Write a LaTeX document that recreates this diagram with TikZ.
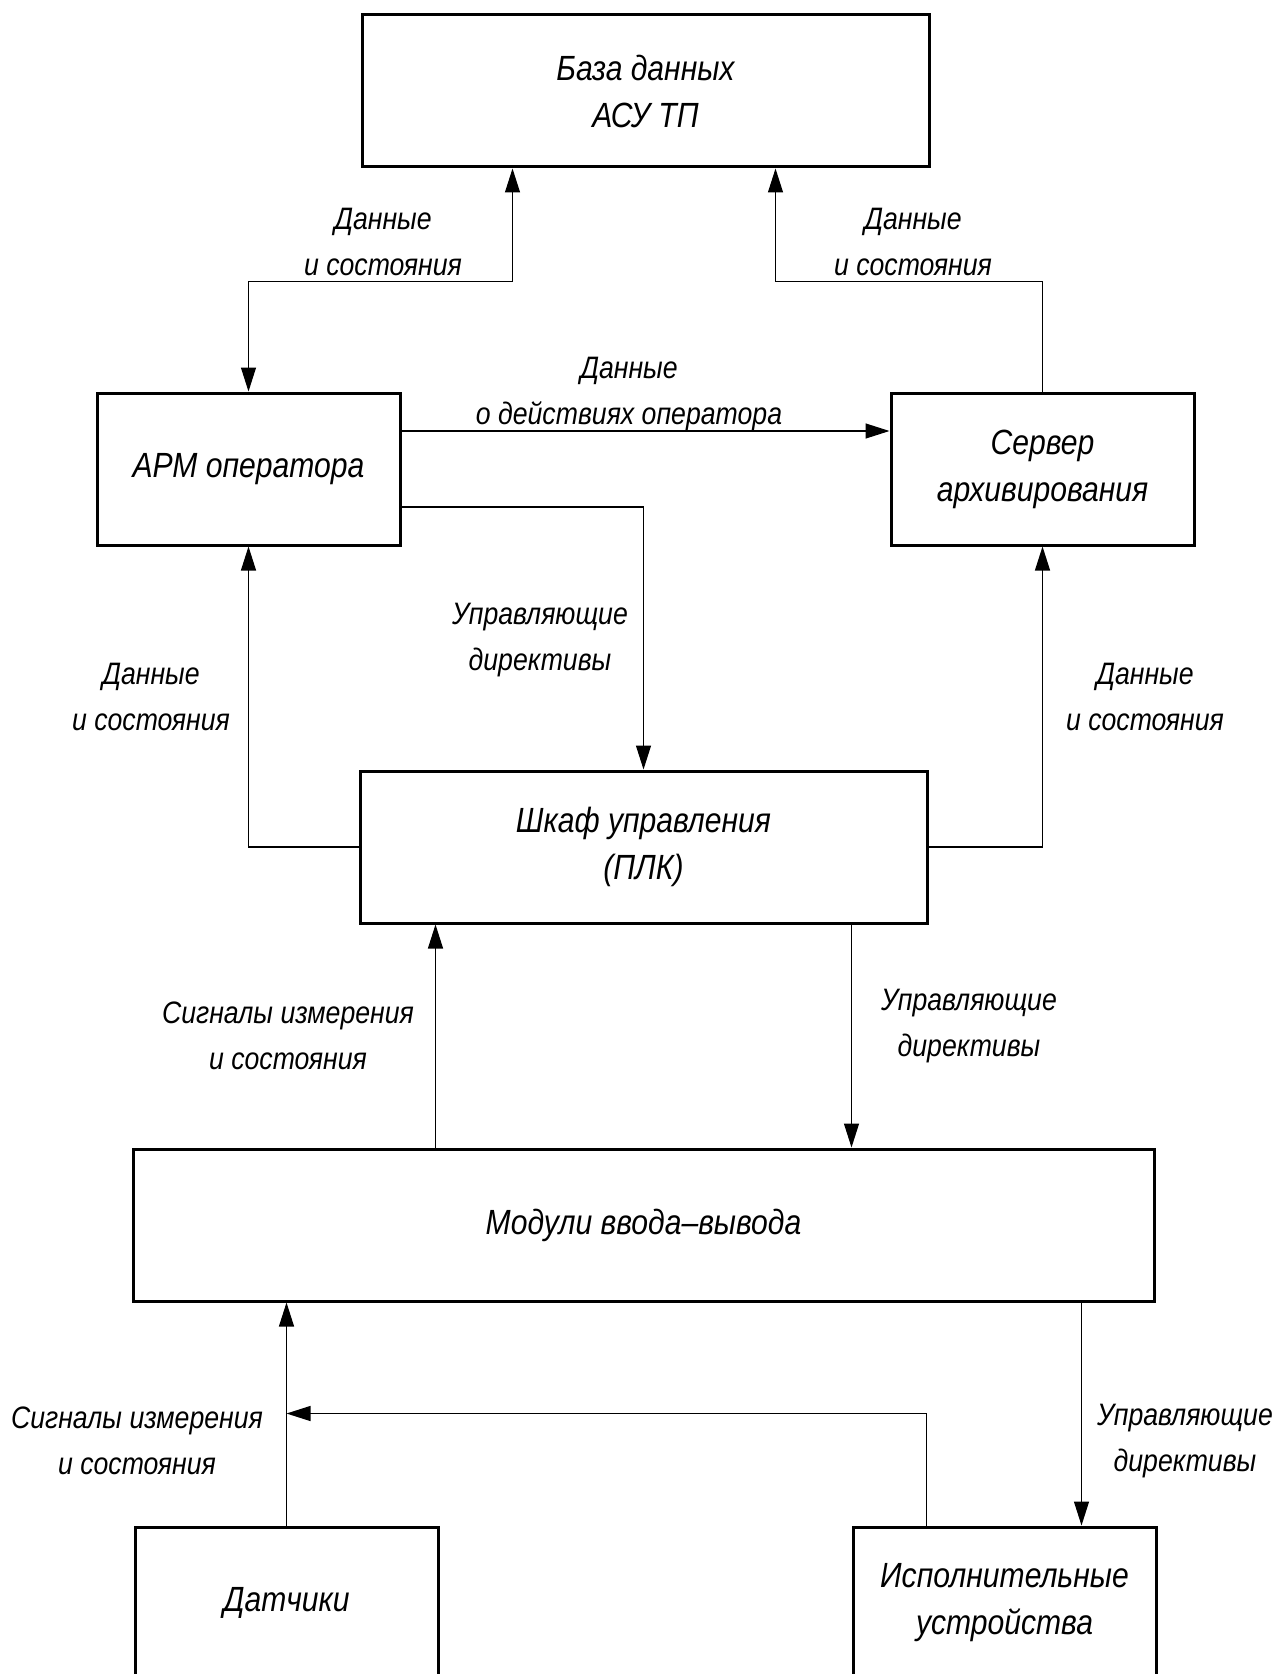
\documentclass[tikz,border=0pt]{standalone}
\usepackage{fontspec}
\newfontfamily\gostfont{Liberation Sans}[FakeStretch=0.86]
\usetikzlibrary{arrows.meta, calc}

\begin{document}
\begin{tikzpicture}[x=0.5pt, y=-0.5pt, >={Triangle[length=12pt, width=7.5pt]}, line width=0.6pt,
    blk/.style={draw, line width=1.5pt, minimum height=76pt, inner sep=0pt, align=center,
      font=\gostfont\itshape\fontsize{17.5pt}{23.5pt}\selectfont},
    lbl/.style={inner sep=0pt, align=center, font=\gostfont\itshape\fontsize{15.5pt}{23pt}\selectfont}]
  \useasboundingbox (0,0) rectangle (1274,1674);
  % blocks
  \node[blk, minimum width=283.5pt] (db) at (645.5,91) {База данных\\АСУ ТП};
  \node[blk, minimum width=151.5pt] (arm) at (248.5,469) {АРМ оператора};
  \node[blk, minimum width=151.5pt] (srv) at (1042.5,469) {Сервер\\архивирования};
  \node[blk, minimum width=283.5pt] (plc) at (643.5,847) {Шкаф управления\\(ПЛК)};
  \node[blk, minimum width=510.5pt] (io) at (643.5,1225) {Модули ввода–вывода};
  \node[blk, minimum width=151.5pt] (sens) at (286.5,1603) {Датчики};
  \node[blk, minimum width=151.5pt] (act) at (1004.5,1603) {Исполнительные\\устройства};
  % connectors
  \draw[<->] (arm.north) |- ($(db.south west)+(152,113)$) -- ($(db.south west)+(152,0)$);
  \draw[->] (srv.north) |- ($(db.south west)+(415,113)$) -- ($(db.south west)+(415,0)$);
  \draw[->] ($(arm.east)+(0,-38)$) coordinate (op) -- (op -| srv.west);
  \draw[->] ($(arm.east)+(0,38)$) -| (plc.north);
  \draw[->] (plc.west) -| (arm.south);
  \draw[->] (plc.east) -| (srv.south);
  \draw[->] ($(io.north west)+(304,0)$) coordinate (sig) -- (sig |- plc.south);
  \draw[->] ($(plc.south west)+(493,0)$) coordinate (cmd) -- (cmd |- io.north);
  \draw[->] (sens.north) -- (sens.north |- io.south);
  \draw[->] ($(act.north west)+(75,0)$) |- ($(sens.north)+(0,-112)$);
  \draw[->] ($(io.south east)+(-74,0)$) coordinate (cmdb) -- (cmdb |- act.north);
  % labels
  \node[lbl] (l1) at (383,242) {Данные\\и состояния};
  \node[lbl] (l2) at (913,242) {Данные\\и состояния};
  \node[lbl] (l3) at (629,394) {Данные\\о действиях оператора};
  \node[lbl] (l4) at (540,640) {Управляющие\\директивы};
  \node[lbl] (l5) at (151,697) {Данные\\и состояния};
  \node[lbl] (l6) at (1145,697) {Данные\\и состояния};
  \node[lbl] (l7) at (288,1036) {Сигналы измерения\\и состояния};
  \node[lbl] (l8) at (969,1026) {Управляющие\\директивы};
  \node[lbl] (l9) at (137,1441) {Сигналы измерения\\и состояния};
  \node[lbl] (l10) at (1185,1441) {Управляющие\\директивы};
\end{tikzpicture}
\end{document}
